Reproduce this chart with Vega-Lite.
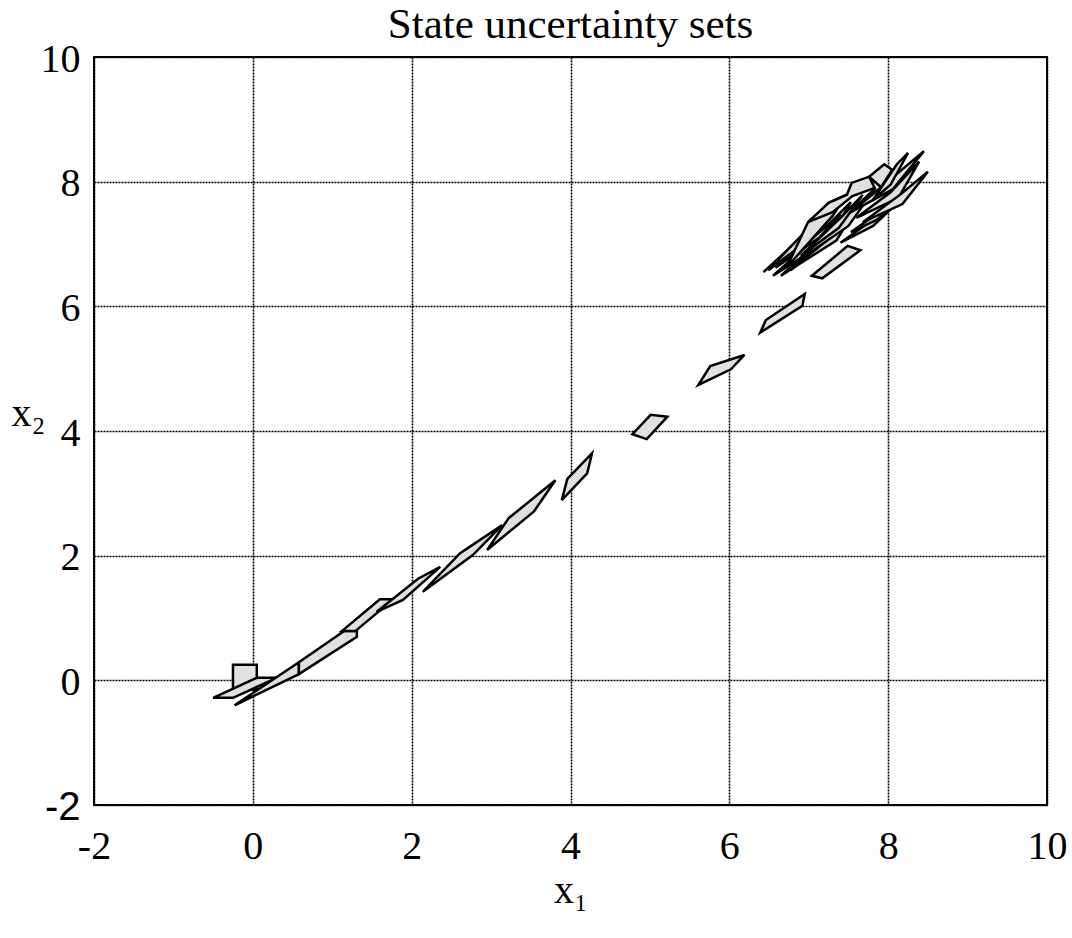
{
  "$schema": "https://vega.github.io/schema/vega-lite/v6.json",
  "width": 953,
  "height": 748,
  "autosize": {"type": "none"},
  "padding": {"left": 94, "top": 57, "right": 25, "bottom": 133},
  "background": "white",
  "title": {"text": "State uncertainty sets", "font": "Liberation Serif", "fontSize": 43, "fontWeight": "normal", "color": "black", "anchor": "middle", "baseline": "alphabetic", "offset": -42},
  "config": {"view": {"stroke": "black", "strokeWidth": 2}},
  "data": {"values": [
    {"p":0,"i":0,"x":-0.25,"y":-0.15},{"p":0,"i":1,"x":0.05,"y":-0.15},{"p":0,"i":2,"x":0.05,"y":0.25},{"p":0,"i":3,"x":-0.25,"y":0.25},
    {"p":1,"i":0,"x":-0.50,"y":-0.28},{"p":1,"i":1,"x":0.05,"y":0.04},{"p":1,"i":2,"x":0.30,"y":0.04},{"p":1,"i":3,"x":-0.25,"y":-0.28},
    {"p":2,"i":0,"x":-0.23,"y":-0.40},{"p":2,"i":1,"x":0.58,"y":0.29},{"p":2,"i":2,"x":0.58,"y":0.10},
    {"p":3,"i":0,"x":0.58,"y":0.29},{"p":3,"i":1,"x":1.15,"y":0.79},{"p":3,"i":2,"x":1.31,"y":0.79},{"p":3,"i":3,"x":1.31,"y":0.70},{"p":3,"i":4,"x":0.58,"y":0.10},
    {"p":4,"i":0,"x":1.12,"y":0.79},{"p":4,"i":1,"x":1.60,"y":1.30},{"p":4,"i":2,"x":1.77,"y":1.30},{"p":4,"i":3,"x":1.29,"y":0.79},
    {"p":5,"i":0,"x":1.56,"y":1.10},{"p":5,"i":1,"x":2.08,"y":1.63},{"p":5,"i":2,"x":2.36,"y":1.82},{"p":5,"i":3,"x":1.89,"y":1.29},
    {"p":6,"i":0,"x":2.14,"y":1.42},{"p":6,"i":1,"x":2.61,"y":2.04},{"p":6,"i":2,"x":3.14,"y":2.49},{"p":6,"i":3,"x":2.77,"y":2.01},
    {"p":7,"i":0,"x":2.95,"y":2.09},{"p":7,"i":1,"x":3.22,"y":2.60},{"p":7,"i":2,"x":3.81,"y":3.21},{"p":7,"i":3,"x":3.54,"y":2.71},
    {"p":8,"i":0,"x":3.89,"y":2.89},{"p":8,"i":1,"x":3.96,"y":3.23},{"p":8,"i":2,"x":4.27,"y":3.64},{"p":8,"i":3,"x":4.21,"y":3.32},
    {"p":9,"i":0,"x":4.78,"y":3.95},{"p":9,"i":1,"x":5.01,"y":4.26},{"p":9,"i":2,"x":5.22,"y":4.23},{"p":9,"i":3,"x":4.96,"y":3.87},
    {"p":10,"i":0,"x":5.61,"y":4.74},{"p":10,"i":1,"x":5.76,"y":5.04},{"p":10,"i":2,"x":6.19,"y":5.22},{"p":10,"i":3,"x":6.02,"y":4.99},
    {"p":11,"i":0,"x":6.39,"y":5.58},{"p":11,"i":1,"x":6.46,"y":5.78},{"p":11,"i":2,"x":6.95,"y":6.20},{"p":11,"i":3,"x":6.92,"y":6.01},
    {"p":12,"i":0,"x":7.04,"y":6.49},{"p":12,"i":1,"x":7.49,"y":6.97},{"p":12,"i":2,"x":7.65,"y":6.90},{"p":12,"i":3,"x":7.17,"y":6.45},
    {"p":13,"i":0,"x":6.43,"y":6.55},{"p":13,"i":1,"x":6.90,"y":7.10},{"p":13,"i":2,"x":7.23,"y":7.51},{"p":13,"i":3,"x":6.97,"y":7.13},
    {"p":14,"i":0,"x":6.49,"y":6.58},{"p":14,"i":1,"x":6.97,"y":7.22},{"p":14,"i":2,"x":7.48,"y":7.77},{"p":14,"i":3,"x":7.10,"y":7.16},
    {"p":15,"i":0,"x":6.55,"y":6.49},{"p":15,"i":1,"x":7.05,"y":7.06},{"p":15,"i":2,"x":7.53,"y":7.67},{"p":15,"i":3,"x":7.25,"y":7.06},
    {"p":16,"i":0,"x":6.65,"y":6.49},{"p":16,"i":1,"x":7.13,"y":7.03},{"p":16,"i":2,"x":7.63,"y":7.64},{"p":16,"i":3,"x":7.35,"y":7.06},
    {"p":17,"i":0,"x":6.58,"y":6.62},{"p":17,"i":1,"x":7.09,"y":7.14},{"p":17,"i":2,"x":7.40,"y":7.48},{"p":17,"i":3,"x":7.13,"y":7.10},
    {"p":18,"i":0,"x":6.77,"y":6.58},{"p":18,"i":1,"x":7.28,"y":7.13},{"p":18,"i":2,"x":7.50,"y":7.48},{"p":18,"i":3,"x":7.23,"y":7.06},
    {"p":19,"i":0,"x":6.84,"y":6.71},{"p":19,"i":1,"x":7.34,"y":7.29},{"p":19,"i":2,"x":7.84,"y":7.90},{"p":19,"i":3,"x":7.50,"y":7.29},
    {"p":20,"i":0,"x":6.90,"y":6.81},{"p":20,"i":1,"x":7.40,"y":7.42},{"p":20,"i":2,"x":7.68,"y":7.79},{"p":20,"i":3,"x":7.38,"y":7.26},
    {"p":21,"i":0,"x":6.72,"y":6.62},{"p":21,"i":1,"x":6.99,"y":7.35},{"p":21,"i":2,"x":7.15,"y":7.51},{"p":21,"i":3,"x":7.25,"y":7.66},{"p":21,"i":4,"x":7.48,"y":7.79},{"p":21,"i":5,"x":7.30,"y":7.45},
    {"p":22,"i":0,"x":6.99,"y":7.35},{"p":22,"i":1,"x":7.25,"y":7.66},{"p":22,"i":2,"x":7.48,"y":7.79},{"p":22,"i":3,"x":7.54,"y":7.98},{"p":22,"i":4,"x":7.76,"y":8.08},{"p":22,"i":5,"x":7.83,"y":7.90},{"p":22,"i":6,"x":7.55,"y":7.77},{"p":22,"i":7,"x":7.30,"y":7.51},
    {"p":23,"i":0,"x":7.76,"y":8.08},{"p":23,"i":1,"x":7.95,"y":8.28},{"p":23,"i":2,"x":8.05,"y":8.19},{"p":23,"i":3,"x":7.91,"y":7.91},
    {"p":24,"i":0,"x":7.40,"y":7.02},{"p":24,"i":1,"x":7.76,"y":7.35},{"p":24,"i":2,"x":8.10,"y":7.64},{"p":24,"i":3,"x":7.81,"y":7.29},
    {"p":25,"i":0,"x":7.53,"y":7.19},{"p":25,"i":1,"x":7.88,"y":7.51},{"p":25,"i":2,"x":8.16,"y":7.71},{"p":25,"i":3,"x":7.86,"y":7.39},
    {"p":26,"i":0,"x":7.53,"y":7.51},{"p":26,"i":1,"x":7.91,"y":7.91},{"p":26,"i":2,"x":8.45,"y":8.49},{"p":26,"i":3,"x":8.06,"y":7.88},
    {"p":27,"i":0,"x":7.60,"y":7.42},{"p":27,"i":1,"x":8.03,"y":7.83},{"p":27,"i":2,"x":8.39,"y":8.32},{"p":27,"i":3,"x":8.13,"y":7.74},
    {"p":28,"i":0,"x":7.68,"y":7.35},{"p":28,"i":1,"x":8.16,"y":7.80},{"p":28,"i":2,"x":8.50,"y":8.16},{"p":28,"i":3,"x":8.18,"y":7.64},
    {"p":29,"i":0,"x":7.81,"y":7.71},{"p":29,"i":1,"x":8.11,"y":8.28},{"p":29,"i":2,"x":8.25,"y":8.46},{"p":29,"i":3,"x":8.03,"y":7.95}
  ]},
  "mark": {"type": "line", "interpolate": "linear-closed", "fill": "#e0e0e0", "stroke": "black", "strokeWidth": 2.5, "clip": true},
  "encoding": {
    "x": {"field": "x", "type": "quantitative",
      "scale": {"domain": [-2, 10], "nice": false, "zero": false},
      "axis": {"values": [-2, 0, 2, 4, 6, 8, 10], "title": "x₁", "titleFont": "Liberation Serif", "titleFontSize": 40, "titleFontWeight": "normal", "titleColor": "black", "titleBaseline": "alphabetic", "titleY": 97,
        "labelExpr": "datum.value < 0 ? '-' + abs(datum.value) : datum.label",
        "labelFont": "Liberation Serif", "labelFontSize": 40, "labelColor": "black", "labelBaseline": "alphabetic", "labelPadding": 53, "labelFlush": false, "labelOverlap": false,
        "ticks": false, "tickSize": 0, "domain": false,
        "grid": true, "gridColor": "black", "gridDash": [2, 1], "gridWidth": 1.6, "gridOpacity": 1}},
    "y": {"field": "y", "type": "quantitative",
      "scale": {"domain": [-2, 10], "nice": false, "zero": false},
      "axis": {"values": [-2, 0, 2, 4, 6, 8, 10], "title": "x₂", "titleFont": "Liberation Serif", "titleFontSize": 40, "titleFontWeight": "normal", "titleColor": "black", "titleAngle": 0, "titleAlign": "center", "titleBaseline": "alphabetic", "titleX": -66, "titleY": 368,
        "labelExpr": "datum.value < 0 ? '-' + abs(datum.value) : datum.label",
        "labelFont": {"condition": {"test": "datum.value == -2", "value": "Liberation Sans"}, "value": "Liberation Serif"},
        "labelFontSize": 40, "labelColor": "black", "labelBaseline": "middle", "labelPadding": 14, "labelOffset": 2, "labelFlush": false, "labelOverlap": false,
        "ticks": false, "tickSize": 0, "domain": false,
        "grid": true, "gridColor": "black", "gridDash": [2, 1], "gridWidth": 1.6, "gridOpacity": 1}},
    "detail": {"field": "p", "type": "nominal"},
    "order": {"field": "i", "type": "quantitative"}
  }
}
